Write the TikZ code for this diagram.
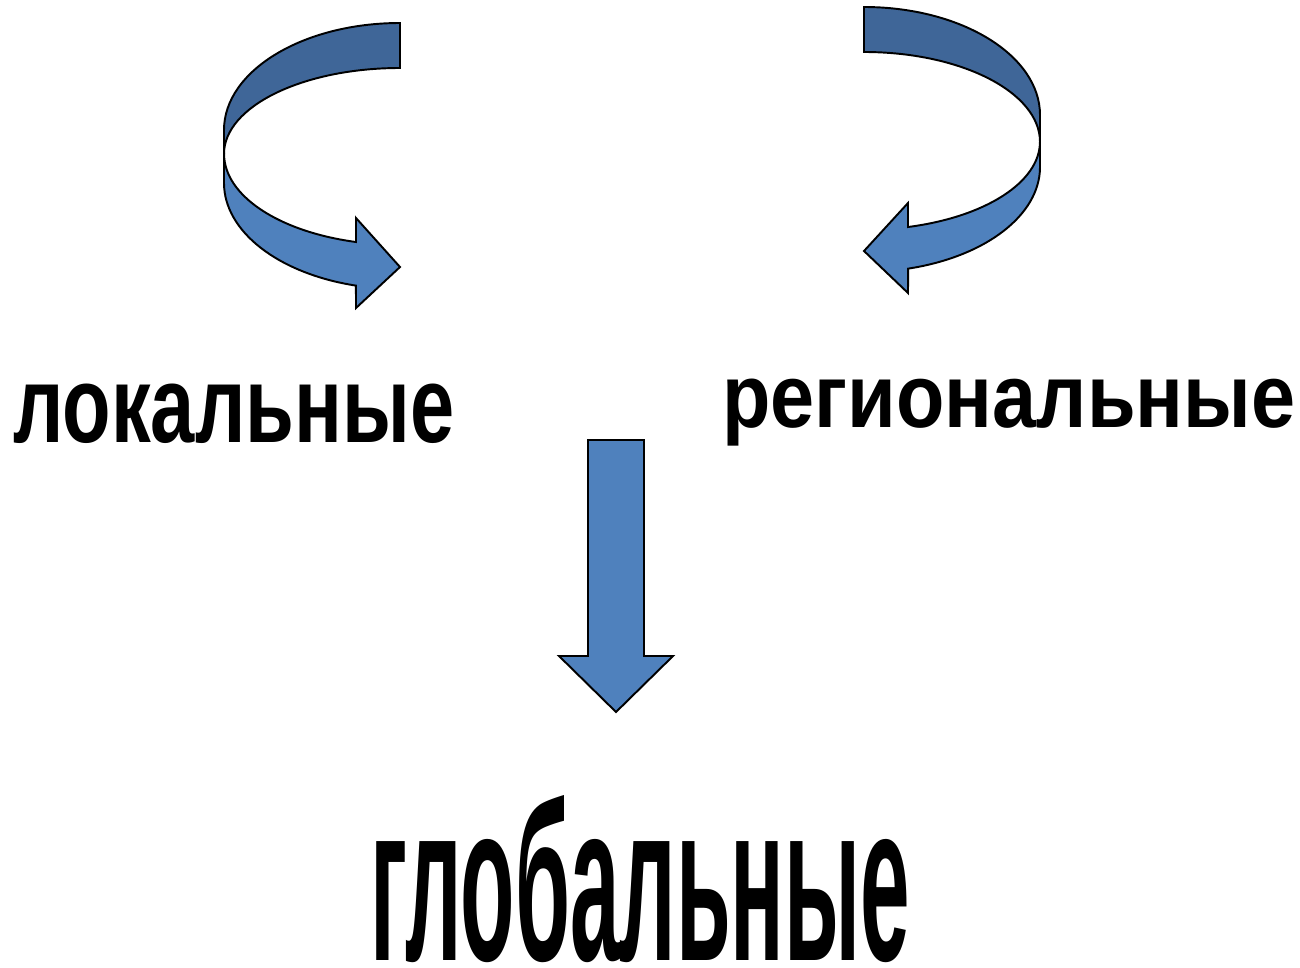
\documentclass[tikz,border=0pt]{standalone}
\usepackage{fontspec}
\setmainfont{Liberation Sans}
\usepackage{graphicx}
\usepackage{xcolor}
\definecolor{bandlight}{HTML}{4F81BD}
\definecolor{banddark}{HTML}{3F6698}

\begin{document}
\begin{tikzpicture}[x=0.02cm,y=0.02cm,
  band/.style={draw=black,line width=1.1pt,line join=miter,fill=bandlight},
  backband/.style={band,fill=banddark},
  label/.style={inner sep=0pt,anchor=base west,font=\bfseries}]

  \useasboundingbox (0,0) rectangle (1300,-967);

  % left curved arrow
  \draw[backband] (400,-23) arc[start angle=90,end angle=180,x radius=176,y radius=107]
    -- (224,-154) arc[start angle=180,end angle=90,x radius=176,y radius=86] -- cycle;
  \draw[band] (224,-154) -- (224,-183)
    arc[start angle=180,end angle=255.5,x radius=176,y radius=106]
    -- (356,-308) -- (400,-267) -- (356,-218) -- (356,-242)
    arc[start angle=255.5,end angle=180,x radius=176,y radius=91] -- cycle;

  % right curved arrow
  \draw[backband] (864,-7) arc[start angle=90,end angle=0,x radius=176,y radius=108]
    -- (1040,-142) arc[start angle=0,end angle=90,x radius=176,y radius=90] -- cycle;
  \draw[band] (1040,-142) -- (1040,-167)
    arc[start angle=0,end angle=-75.5,x radius=176,y radius=105]
    -- (908,-293) -- (864,-251) -- (908,-203) -- (908,-227)
    arc[start angle=-75.5,end angle=0,x radius=176,y radius=88] -- cycle;

  % down arrow
  \draw[band] (588,-440) -- (644,-440) -- (644,-656) -- (673,-656)
    -- (616,-712) -- (559,-656) -- (588,-656) -- cycle;

  \node[label] (local) at (13,-442) {\resizebox{8.82cm}{1.17cm}{локальные}};
  \node[label] (regional) at (722,-427) {\resizebox{11.46cm}{0.97cm}{региональные}};
  \node[label] (global) at (370,-960) {\resizebox{10.8cm}{3.3cm}{глобальные}};
\end{tikzpicture}
\end{document}
